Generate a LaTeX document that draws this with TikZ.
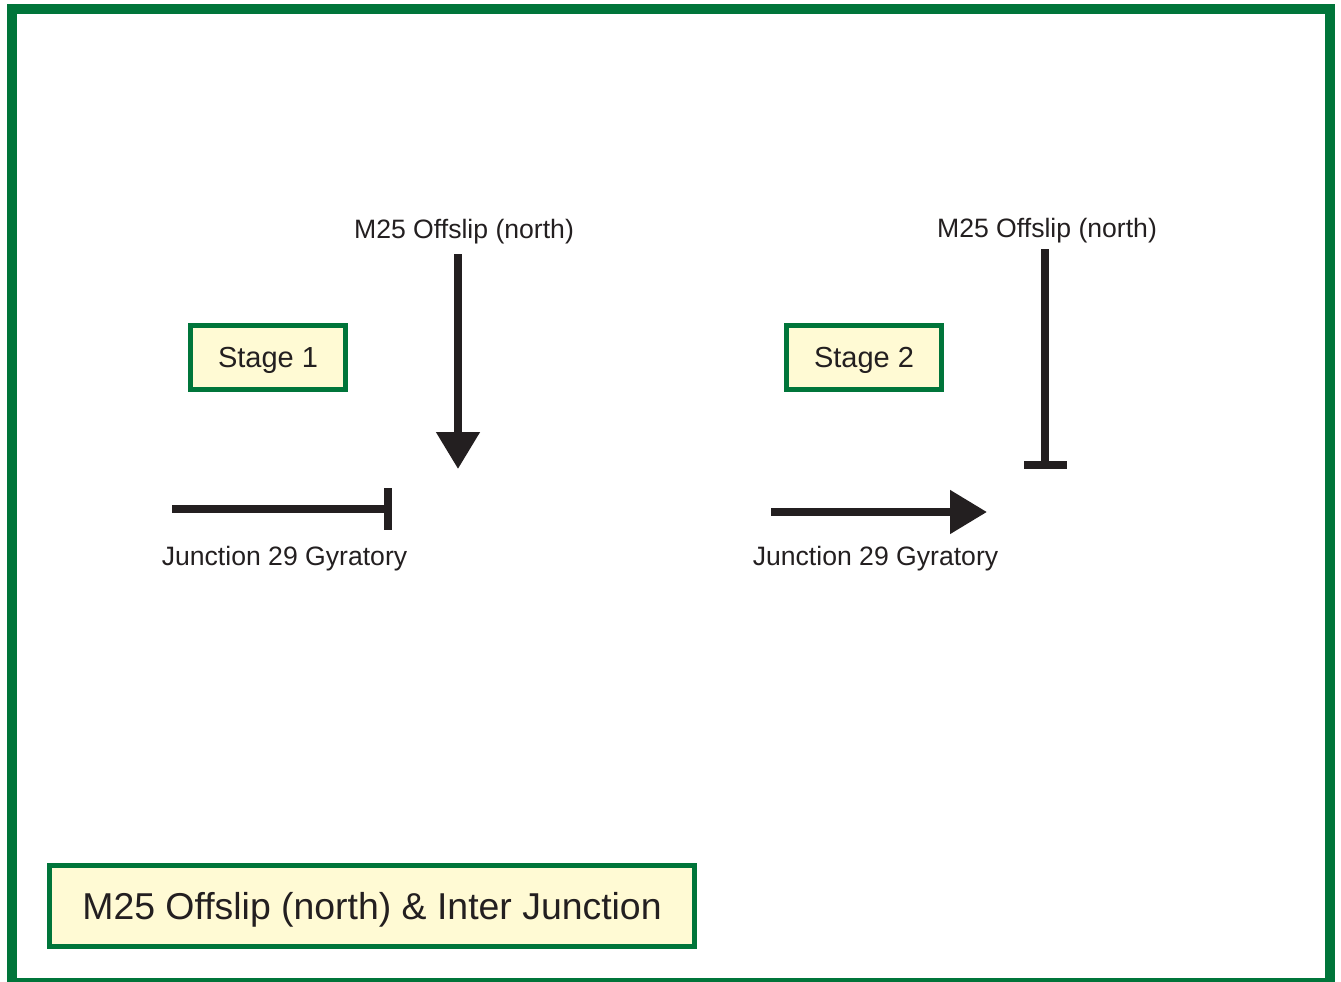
\documentclass[tikz,border=0pt]{standalone}
\usepackage{fontspec}
\setmainfont{Liberation Sans}
\usetikzlibrary{arrows.meta}
\definecolor{frame}{HTML}{00753A}
\definecolor{panel}{HTML}{FFFAD4}
\definecolor{ink}{HTML}{231F20}
% place a line of text so that its capitals sit centred on the node
\newcommand{\capcentred}[2]{\smash{\raisebox{-#1}{#2}}}
\tikzset{
  stagebox/.style={draw=frame, fill=panel, line width=5pt, minimum width=155pt, minimum height=64pt, inner sep=0pt, font=\fontsize{29}{34}\selectfont, text=ink},
  titlebox/.style={draw=frame, fill=panel, line width=5pt, minimum width=645pt, minimum height=81pt, inner sep=0pt, font=\fontsize{37.4}{44}\selectfont, text=ink},
  roadlabel/.style={inner sep=0pt, font=\fontsize{26.6}{32}\selectfont, text=ink},
  flow/.style={draw=ink, line width=8pt, line cap=butt, -{Triangle[length=37pt,width=42pt]}},
  held/.style={draw=ink, line width=8pt, line cap=butt},
}
\begin{document}
\begin{tikzpicture}[x=1pt, y=-1pt]
\useasboundingbox (0,0) rectangle (1341,982);
% outer frame
\draw[frame, line width=10pt] (12,9.5) rectangle (1330,983);

% stage 1
\node[stagebox] (s1) at (268,357) {\capcentred{10.5pt}{Stage 1}};
\node[roadlabel] (n1) at (464,232) {M25 Offslip (north)};
\node[roadlabel] (j1) at (284.5,559) {Junction 29 Gyratory};
\coordinate (n1a) at (458,254);
\coordinate (n1b) at (458,469);
\draw[flow] (n1a) -- (n1b);
\coordinate (j1a) at (172,509);
\coordinate (j1b) at (384,509);
\coordinate (j1t) at (388,488);
\coordinate (j1u) at (388,530);
\draw[held] (j1a) -- (j1b);
\draw[held] (j1t) -- (j1u);

% stage 2
\node[stagebox] (s2) at (864,357) {\capcentred{10.5pt}{Stage 2}};
\node[roadlabel] (n2) at (1047,231) {M25 Offslip (north)};
\node[roadlabel] (j2) at (875.5,559) {Junction 29 Gyratory};
\coordinate (n2a) at (1045,249);
\coordinate (n2b) at (1045,461);
\coordinate (n2t) at (1024,465);
\coordinate (n2u) at (1067,465);
\draw[held] (n2a) -- (n2b);
\draw[held] (n2t) -- (n2u);
\coordinate (j2a) at (771,512);
\coordinate (j2b) at (987,512);
\draw[flow] (j2a) -- (j2b);

% caption
\node[titlebox] (cap) at (372,906) {\capcentred{13.4pt}{M25 Offslip (north) \& Inter Junction}};
\end{tikzpicture}
\end{document}
